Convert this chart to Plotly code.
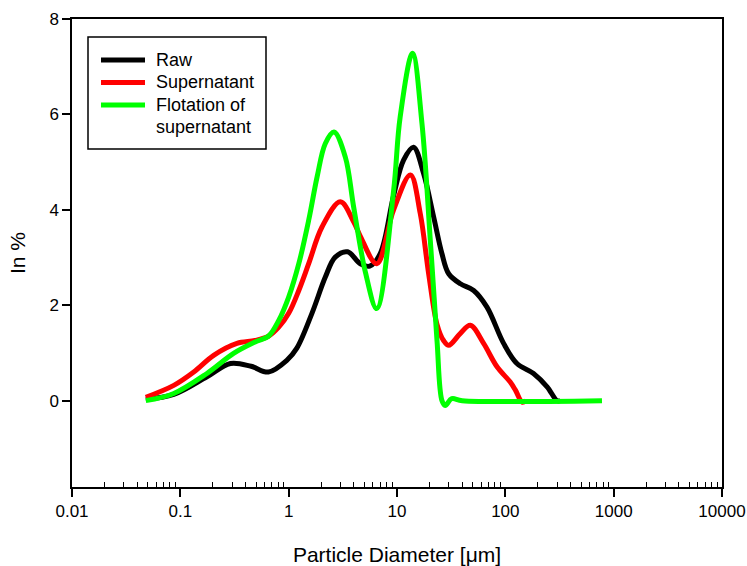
import plotly.graph_objects as go

# Particle size distributions (diameter in µm, volume fraction in %)
raw_d = [0.048, 0.087, 0.176, 0.29, 0.45, 0.65, 0.966, 1.19, 1.64, 2.18,
         2.69, 3.5, 4.58, 5.6, 7.0, 9.3, 11.5, 14.2, 17.6, 21.8, 26, 30,
         38.5, 51, 67.7, 96.4, 128, 182, 243, 300, 321]
raw_v = [0.03, 0.13, 0.5, 0.78, 0.72, 0.6, 0.85, 1.1, 1.83, 2.59,
         3.01, 3.12, 2.87, 2.82, 3.08, 4.3, 5.04, 5.31, 4.76, 3.85, 3.08, 2.66,
         2.45, 2.31, 1.96, 1.2, 0.78, 0.57, 0.29, 0.0, 0.0]

sup_d = [0.048, 0.087, 0.133, 0.203, 0.333, 0.49, 0.65, 0.81, 1.0, 1.24,
         1.53, 2.03, 3.0, 3.98, 4.58, 6.5, 9.3, 13.3, 16.4, 19.6, 23.4, 26.9,
         30, 38.5, 47.5, 63, 83.8, 111, 124, 143, 155]
sup_v = [0.07, 0.32, 0.6, 0.95, 1.2, 1.26, 1.35, 1.54, 1.83, 2.31,
         2.87, 3.64, 4.17, 3.75, 3.45, 2.87, 4.0, 4.73, 3.92, 2.66, 1.6, 1.26,
         1.16, 1.41, 1.58, 1.2, 0.71, 0.39, 0.22, -0.03, 0.0]

flo_d = [0.048, 0.087, 0.176, 0.31, 0.49, 0.65, 0.81, 1.0, 1.24, 1.53, 1.83,
         2.18, 2.62, 3.33, 3.98, 5.1, 6.5, 9.3, 10.7, 13.9, 17.0, 20.3, 23.4,
         26, 27.9, 32, 40, 780]
flo_v = [0.0, 0.15, 0.57, 0.99, 1.23, 1.35, 1.68, 2.17, 2.87, 3.78, 4.69,
         5.39, 5.63, 5.11, 4.06, 2.7, 1.93, 4.4, 5.95, 7.28, 5.81, 3.36, 1.26,
         0.0, -0.1, 0.04, 0.0, 0.0]

names = ["Raw", "Supernatant", "Flotation of\nsupernatant"]
colors = ["#000000", "#ff0000", "#00ff00"]
data = [(raw_d, raw_v), (sup_d, sup_v), (flo_d, flo_v)]

FONT = "Liberation Sans, Arial, sans-serif"
W, H = 747, 566
ML, MR, MT, MB = 72, 25, 19, 79


def px_x(p):
    """Pixel column -> paper x."""
    return (p - ML) / (W - ML - MR)


def px_y(p):
    """Pixel row -> paper y."""
    return (H - MB - p) / (H - MT - MB)


fig = go.Figure()
for name, (d, v), color in zip(names, data, colors):
    fig.add_trace(go.Scatter(
        x=d, y=v, name=name.replace("\n", " "), mode="lines",
        line=dict(color=color, width=5, shape="spline", smoothing=1.0),
        showlegend=False,
    ))

# Boxed legend in the upper-left corner
shapes = [dict(type="rect", xref="paper", yref="paper",
               x0=px_x(88), x1=px_x(266), y0=px_y(149), y1=px_y(37),
               line=dict(color="black", width=1.5), fillcolor="white",
               layer="above")]
annotations = []
row_y = [60, 82.5, 105]
for name, color, ry in zip(names, colors, row_y):
    shapes.append(dict(type="line", xref="paper", yref="paper",
                       x0=px_x(101), x1=px_x(145), y0=px_y(ry), y1=px_y(ry),
                       line=dict(color=color, width=5), layer="above"))
    for k, part in enumerate(name.split("\n")):
        annotations.append(dict(
            xref="paper", yref="paper", x=px_x(154), y=px_y(ry + 22.5 * k),
            xanchor="left", yanchor="middle", text=part, showarrow=False,
            font=dict(size=18, family=FONT, color="black")))

fig.update_layout(
    width=W, height=H,
    margin=dict(l=ML, r=MR, t=MT, b=MB),
    paper_bgcolor="white", plot_bgcolor="white",
    font=dict(family=FONT, color="black"),
    shapes=shapes, annotations=annotations,
)

decades = [10.0 ** e for e in range(-2, 4)]
minor_vals = [m * d for d in decades for m in range(2, 10)]

fig.update_xaxes(
    type="log", range=[-2, 4], automargin=False,
    showline=True, linecolor="black", linewidth=1.5, mirror=True,
    ticks="outside", ticklen=8, tickwidth=1.5, tickcolor="black",
    showgrid=False, zeroline=False,
    tickfont=dict(size=17, family=FONT),
    tickmode="array",
    tickvals=[0.01, 0.1, 1, 10, 100, 1000, 10000],
    ticktext=["0.01", "0.1", "1", "10", "100", "1000", "10000"],
    minor=dict(ticks="inside", ticklen=5, tickwidth=1.2, tickcolor="black",
               showgrid=False, tickmode="array", tickvals=minor_vals),
    title=dict(text="Particle Diameter [μm]", font=dict(size=21, family=FONT),
               standoff=28),
)

fig.update_yaxes(
    range=[-1.81, 8], automargin=False,
    tickmode="array", tickvals=[0, 2, 4, 6, 8],
    showline=True, linecolor="black", linewidth=1.5, mirror=True,
    ticks="outside", ticklen=8, tickwidth=1.5, tickcolor="black",
    showgrid=False, zeroline=False,
    tickfont=dict(size=17, family=FONT),
    title=dict(text="In %", font=dict(size=21, family=FONT), standoff=18),
)

fig.write_html("out.html")
